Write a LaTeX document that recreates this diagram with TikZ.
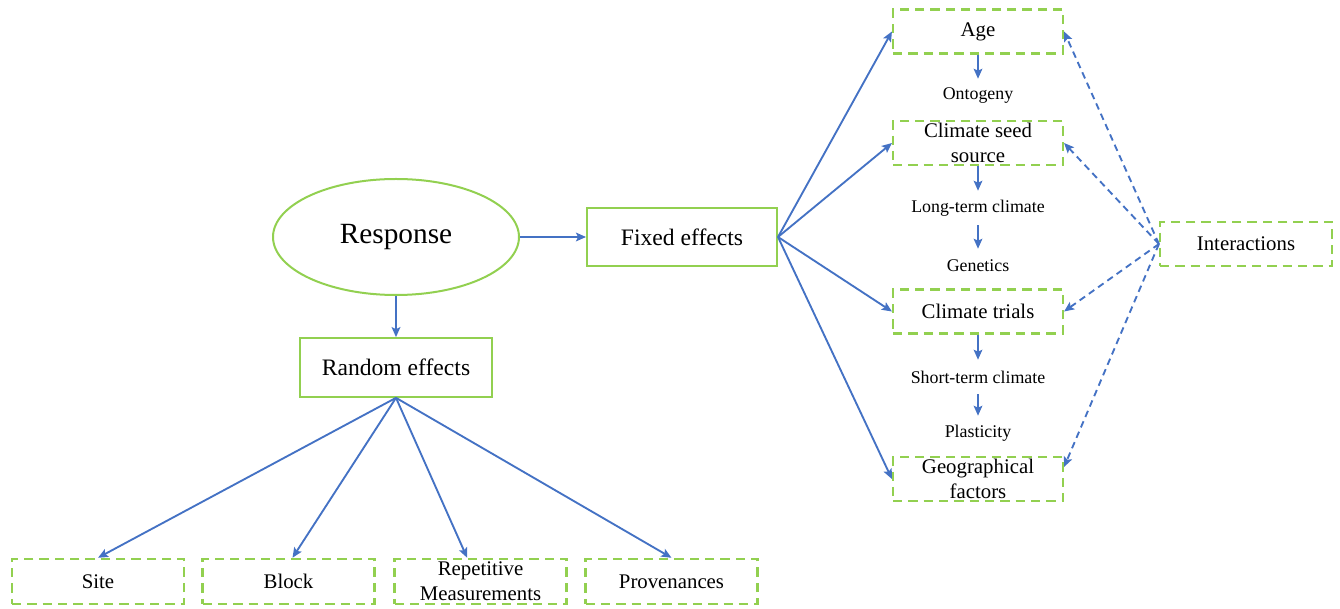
\documentclass[tikz,border=0pt]{standalone}
\usepackage{fontspec}
\setmainfont{Liberation Serif}
\usetikzlibrary{shapes.geometric,arrows.meta}
\definecolor{lblue}{HTML}{4472C4}
\definecolor{lgreen}{HTML}{92D050}
\tikzset{
  solidbox/.style={draw=lgreen, line width=1.5pt, inner sep=0pt, align=center, font=\fontsize{17.7pt}{21pt}\selectfont},
  dbox/.style={draw=lgreen, line width=1.6pt, dash pattern=on 7pt off 4.5pt, inner sep=0pt, align=center,
     minimum width=127.5pt, minimum height=33pt, font=\fontsize{15.6pt}{18.8pt}\selectfont},
  lbl/.style={inner sep=0pt, minimum height=25.5pt, font=\fontsize{13.4pt}{16pt}\selectfont},
  arr/.style={draw=lblue, line width=1.4pt, -{Stealth[length=7.5pt,width=6.5pt,inset=1.5pt]}},
  darr/.style={arr, dash pattern=on 5pt off 3.5pt},
}
\begin{document}
\begin{tikzpicture}[x=0.75pt,y=-0.75pt]
\useasboundingbox (0,0) rectangle (1340,609);
% main nodes
\node[ellipse, draw=lgreen, line width=1.5pt, minimum width=184.5pt, minimum height=87pt, inner sep=0pt,
  font=\fontsize{22pt}{26pt}\selectfont] (resp) at (396,237) {Response};
\node[solidbox, minimum width=142.5pt, minimum height=43.5pt] (fixed) at (682,237) {Fixed effects};
\node[solidbox, minimum width=144pt, minimum height=44pt] (random) at (396,367.5) {Random effects};
% bottom boxes
\node[dbox, minimum width=129pt, minimum height=34pt] (site) at (98,581.5) {Site};
\node[dbox, minimum width=129pt, minimum height=34pt] (block) at (288.5,581.5) {Block};
\node[dbox, minimum width=129pt, minimum height=34pt] (rep) at (480.5,581.5) {Repetitive\\Measurements};
\node[dbox, minimum width=129pt, minimum height=34pt] (prov) at (671.5,581.5) {Provenances};
% right column
\node[dbox] (age) at (978,31.5) {Age};
\node[dbox] (css) at (978,143) {Climate seed\\source};
\node[dbox] (ct) at (978,311.5) {Climate trials};
\node[dbox] (geo) at (978,479) {Geographical\\factors};
\node[dbox, minimum width=129pt] (inter) at (1246,244) {Interactions};
% labels
\node[lbl] (onto) at (978,96) {Ontogeny};
\node[lbl] (long) at (978,208) {Long-term climate};
\node[lbl] (gen) at (978,266) {Genetics};
\node[lbl] (short) at (978,377) {Short-term climate};
\node[lbl] (plast) at (978,433) {Plasticity};
% connectors
\draw[arr] (resp.east) -- (fixed.west);
\draw[arr] (resp.south) -- (random.north);
\draw[arr] (random.south) -- (site.north);
\draw[arr] (random.south) -- ([xshift=3pt]block.north);
\draw[arr] (random.south) -- ([xshift=-10pt]rep.north);
\draw[arr] (random.south) -- (prov.north);
\draw[arr] (fixed.east) -- (age.west);
\draw[arr] (fixed.east) -- (css.west);
\draw[arr] (fixed.east) -- (ct.west);
\draw[arr] (fixed.east) -- (geo.west);
\draw[arr] (age.south) -- (onto.north);
\draw[arr] (css.south) -- (long.north);
\draw[arr] (long.south) -- (gen.north);
\draw[arr] (ct.south) -- (short.north);
\draw[arr] (short.south) -- (plast.north);
\draw[darr] (inter.west) -- (age.east);
\draw[darr] (inter.west) -- (css.east);
\draw[darr] (inter.west) -- (ct.east);
\draw[darr] (inter.west) -- ([yshift=9pt]geo.east);
\end{tikzpicture}
\end{document}
